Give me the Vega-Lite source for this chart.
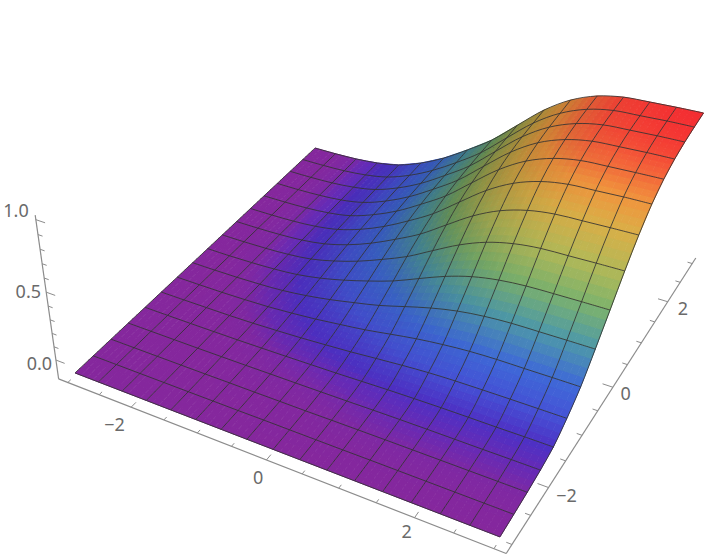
{"$schema":"https://vega.github.io/schema/vega-lite/v6.json","width":720,"height":556,"padding":0,"autosize":{"type":"none"},"background":"white","view":{"stroke":null},
"datasets":{"verts":[
{"i":0,"j":0,"z":-0.08},{"i":0,"j":1,"z":-0.08},{"i":0,"j":2,"z":-0.08},{"i":0,"j":3,"z":-0.08},{"i":0,"j":4,"z":-0.08},{"i":0,"j":5,"z":-0.08},{"i":0,"j":6,"z":-0.08},{"i":0,"j":7,"z":-0.08},{"i":0,"j":8,"z":-0.08},{"i":0,"j":9,"z":-0.08},{"i":0,"j":10,"z":-0.08},{"i":0,"j":11,"z":-0.08},{"i":0,"j":12,"z":-0.08},{"i":0,"j":13,"z":-0.08},{"i":0,"j":14,"z":-0.08},{"i":0,"j":15,"z":-0.08},{"i":0,"j":16,"z":-0.08},
{"i":1,"j":0,"z":-0.08},{"i":1,"j":1,"z":-0.08},{"i":1,"j":2,"z":-0.08},{"i":1,"j":3,"z":-0.08},{"i":1,"j":4,"z":-0.08},{"i":1,"j":5,"z":-0.08},{"i":1,"j":6,"z":-0.08},{"i":1,"j":7,"z":-0.08},{"i":1,"j":8,"z":-0.08},{"i":1,"j":9,"z":-0.079},{"i":1,"j":10,"z":-0.079},{"i":1,"j":11,"z":-0.079},{"i":1,"j":12,"z":-0.079},{"i":1,"j":13,"z":-0.079},{"i":1,"j":14,"z":-0.079},{"i":1,"j":15,"z":-0.079},{"i":1,"j":16,"z":-0.079},
{"i":2,"j":0,"z":-0.08},{"i":2,"j":1,"z":-0.08},{"i":2,"j":2,"z":-0.08},{"i":2,"j":3,"z":-0.08},{"i":2,"j":4,"z":-0.08},{"i":2,"j":5,"z":-0.079},{"i":2,"j":6,"z":-0.079},{"i":2,"j":7,"z":-0.078},{"i":2,"j":8,"z":-0.076},{"i":2,"j":9,"z":-0.075},{"i":2,"j":10,"z":-0.074},{"i":2,"j":11,"z":-0.074},{"i":2,"j":12,"z":-0.073},{"i":2,"j":13,"z":-0.073},{"i":2,"j":14,"z":-0.073},{"i":2,"j":15,"z":-0.073},{"i":2,"j":16,"z":-0.073},
{"i":3,"j":0,"z":-0.08},{"i":3,"j":1,"z":-0.08},{"i":3,"j":2,"z":-0.08},{"i":3,"j":3,"z":-0.08},{"i":3,"j":4,"z":-0.079},{"i":3,"j":5,"z":-0.078},{"i":3,"j":6,"z":-0.075},{"i":3,"j":7,"z":-0.072},{"i":3,"j":8,"z":-0.068},{"i":3,"j":9,"z":-0.065},{"i":3,"j":10,"z":-0.062},{"i":3,"j":11,"z":-0.06},{"i":3,"j":12,"z":-0.058},{"i":3,"j":13,"z":-0.058},{"i":3,"j":14,"z":-0.056},{"i":3,"j":15,"z":-0.056},{"i":3,"j":16,"z":-0.056},
{"i":4,"j":0,"z":-0.08},{"i":4,"j":1,"z":-0.08},{"i":4,"j":2,"z":-0.08},{"i":4,"j":3,"z":-0.079},{"i":4,"j":4,"z":-0.078},{"i":4,"j":5,"z":-0.074},{"i":4,"j":6,"z":-0.068},{"i":4,"j":7,"z":-0.061},{"i":4,"j":8,"z":-0.052},{"i":4,"j":9,"z":-0.044},{"i":4,"j":10,"z":-0.035},{"i":4,"j":11,"z":-0.029},{"i":4,"j":12,"z":-0.026},{"i":4,"j":13,"z":-0.024},{"i":4,"j":14,"z":-0.022},{"i":4,"j":15,"z":-0.021},{"i":4,"j":16,"z":-0.021},
{"i":5,"j":0,"z":-0.08},{"i":5,"j":1,"z":-0.08},{"i":5,"j":2,"z":-0.079},{"i":5,"j":3,"z":-0.078},{"i":5,"j":4,"z":-0.075},{"i":5,"j":5,"z":-0.067},{"i":5,"j":6,"z":-0.055},{"i":5,"j":7,"z":-0.039},{"i":5,"j":8,"z":-0.02},{"i":5,"j":9,"z":0},{"i":5,"j":10,"z":0.016},{"i":5,"j":11,"z":0.029},{"i":5,"j":12,"z":0.038},{"i":5,"j":13,"z":0.042},{"i":5,"j":14,"z":0.045},{"i":5,"j":15,"z":0.046},{"i":5,"j":16,"z":0.047},
{"i":6,"j":0,"z":-0.08},{"i":6,"j":1,"z":-0.08},{"i":6,"j":2,"z":-0.079},{"i":6,"j":3,"z":-0.076},{"i":6,"j":4,"z":-0.072},{"i":6,"j":5,"z":-0.058},{"i":6,"j":6,"z":-0.038},{"i":6,"j":7,"z":-0.008},{"i":6,"j":8,"z":0.025},{"i":6,"j":9,"z":0.058},{"i":6,"j":10,"z":0.087},{"i":6,"j":11,"z":0.109},{"i":6,"j":12,"z":0.123},{"i":6,"j":13,"z":0.132},{"i":6,"j":14,"z":0.136},{"i":6,"j":15,"z":0.139},{"i":6,"j":16,"z":0.14},
{"i":7,"j":0,"z":-0.08},{"i":7,"j":1,"z":-0.079},{"i":7,"j":2,"z":-0.078},{"i":7,"j":3,"z":-0.075},{"i":7,"j":4,"z":-0.068},{"i":7,"j":5,"z":-0.046},{"i":7,"j":6,"z":-0.015},{"i":7,"j":7,"z":0.031},{"i":7,"j":8,"z":0.08},{"i":7,"j":9,"z":0.132},{"i":7,"j":10,"z":0.176},{"i":7,"j":11,"z":0.21},{"i":7,"j":12,"z":0.233},{"i":7,"j":13,"z":0.246},{"i":7,"j":14,"z":0.253},{"i":7,"j":15,"z":0.255},{"i":7,"j":16,"z":0.258},
{"i":8,"j":0,"z":-0.08},{"i":8,"j":1,"z":-0.079},{"i":8,"j":2,"z":-0.078},{"i":8,"j":3,"z":-0.073},{"i":8,"j":4,"z":-0.064},{"i":8,"j":5,"z":-0.033},{"i":8,"j":6,"z":0.009},{"i":8,"j":7,"z":0.073},{"i":8,"j":8,"z":0.142},{"i":8,"j":9,"z":0.214},{"i":8,"j":10,"z":0.275},{"i":8,"j":11,"z":0.323},{"i":8,"j":12,"z":0.354},{"i":8,"j":13,"z":0.372},{"i":8,"j":14,"z":0.381},{"i":8,"j":15,"z":0.386},{"i":8,"j":16,"z":0.388},
{"i":9,"j":0,"z":-0.08},{"i":9,"j":1,"z":-0.079},{"i":9,"j":2,"z":-0.076},{"i":9,"j":3,"z":-0.071},{"i":9,"j":4,"z":-0.058},{"i":9,"j":5,"z":-0.016},{"i":9,"j":6,"z":0.041},{"i":9,"j":7,"z":0.128},{"i":9,"j":8,"z":0.222},{"i":9,"j":9,"z":0.319},{"i":9,"j":10,"z":0.402},{"i":9,"j":11,"z":0.467},{"i":9,"j":12,"z":0.509},{"i":9,"j":13,"z":0.533},{"i":9,"j":14,"z":0.546},{"i":9,"j":15,"z":0.552},{"i":9,"j":16,"z":0.555},
{"i":10,"j":0,"z":-0.08},{"i":10,"j":1,"z":-0.079},{"i":10,"j":2,"z":-0.075},{"i":10,"j":3,"z":-0.068},{"i":10,"j":4,"z":-0.052},{"i":10,"j":5,"z":0},{"i":10,"j":6,"z":0.072},{"i":10,"j":7,"z":0.181},{"i":10,"j":8,"z":0.3},{"i":10,"j":9,"z":0.421},{"i":10,"j":10,"z":0.527},{"i":10,"j":11,"z":0.609},{"i":10,"j":12,"z":0.661},{"i":10,"j":13,"z":0.691},{"i":10,"j":14,"z":0.708},{"i":10,"j":15,"z":0.715},{"i":10,"j":16,"z":0.72},
{"i":11,"j":0,"z":-0.08},{"i":11,"j":1,"z":-0.078},{"i":11,"j":2,"z":-0.074},{"i":11,"j":3,"z":-0.066},{"i":11,"j":4,"z":-0.048},{"i":11,"j":5,"z":0.013},{"i":11,"j":6,"z":0.095},{"i":11,"j":7,"z":0.222},{"i":11,"j":8,"z":0.359},{"i":11,"j":9,"z":0.499},{"i":11,"j":10,"z":0.621},{"i":11,"j":11,"z":0.716},{"i":11,"j":12,"z":0.776},{"i":11,"j":13,"z":0.811},{"i":11,"j":14,"z":0.829},{"i":11,"j":15,"z":0.837},{"i":11,"j":16,"z":0.843},
{"i":12,"j":0,"z":-0.08},{"i":12,"j":1,"z":-0.078},{"i":12,"j":2,"z":-0.074},{"i":12,"j":3,"z":-0.065},{"i":12,"j":4,"z":-0.045},{"i":12,"j":5,"z":0.02},{"i":12,"j":6,"z":0.111},{"i":12,"j":7,"z":0.247},{"i":12,"j":8,"z":0.395},{"i":12,"j":9,"z":0.547},{"i":12,"j":10,"z":0.679},{"i":12,"j":11,"z":0.782},{"i":12,"j":12,"z":0.847},{"i":12,"j":13,"z":0.884},{"i":12,"j":14,"z":0.904},{"i":12,"j":15,"z":0.914},{"i":12,"j":16,"z":0.92},
{"i":13,"j":0,"z":-0.08},{"i":13,"j":1,"z":-0.078},{"i":13,"j":2,"z":-0.074},{"i":13,"j":3,"z":-0.065},{"i":13,"j":4,"z":-0.044},{"i":13,"j":5,"z":0.023},{"i":13,"j":6,"z":0.118},{"i":13,"j":7,"z":0.26},{"i":13,"j":8,"z":0.413},{"i":13,"j":9,"z":0.571},{"i":13,"j":10,"z":0.708},{"i":13,"j":11,"z":0.815},{"i":13,"j":12,"z":0.883},{"i":13,"j":13,"z":0.922},{"i":13,"j":14,"z":0.943},{"i":13,"j":15,"z":0.953},{"i":13,"j":16,"z":0.958},
{"i":14,"j":0,"z":-0.08},{"i":14,"j":1,"z":-0.078},{"i":14,"j":2,"z":-0.074},{"i":14,"j":3,"z":-0.065},{"i":14,"j":4,"z":-0.044},{"i":14,"j":5,"z":0.025},{"i":14,"j":6,"z":0.119},{"i":14,"j":7,"z":0.263},{"i":14,"j":8,"z":0.419},{"i":14,"j":9,"z":0.577},{"i":14,"j":10,"z":0.716},{"i":14,"j":11,"z":0.824},{"i":14,"j":12,"z":0.893},{"i":14,"j":13,"z":0.933},{"i":14,"j":14,"z":0.954},{"i":14,"j":15,"z":0.963},{"i":14,"j":16,"z":0.969},
{"i":15,"j":0,"z":-0.08},{"i":15,"j":1,"z":-0.078},{"i":15,"j":2,"z":-0.074},{"i":15,"j":3,"z":-0.064},{"i":15,"j":4,"z":-0.042},{"i":15,"j":5,"z":0.026},{"i":15,"j":6,"z":0.121},{"i":15,"j":7,"z":0.266},{"i":15,"j":8,"z":0.423},{"i":15,"j":9,"z":0.583},{"i":15,"j":10,"z":0.723},{"i":15,"j":11,"z":0.833},{"i":15,"j":12,"z":0.901},{"i":15,"j":13,"z":0.942},{"i":15,"j":14,"z":0.963},{"i":15,"j":15,"z":0.973},{"i":15,"j":16,"z":0.978},
{"i":16,"j":0,"z":-0.08},{"i":16,"j":1,"z":-0.078},{"i":16,"j":2,"z":-0.074},{"i":16,"j":3,"z":-0.064},{"i":16,"j":4,"z":-0.042},{"i":16,"j":5,"z":0.027},{"i":16,"j":6,"z":0.122},{"i":16,"j":7,"z":0.268},{"i":16,"j":8,"z":0.426},{"i":16,"j":9,"z":0.587},{"i":16,"j":10,"z":0.728},{"i":16,"j":11,"z":0.837},{"i":16,"j":12,"z":0.907},{"i":16,"j":13,"z":0.947},{"i":16,"j":14,"z":0.968},{"i":16,"j":15,"z":0.978},{"i":16,"j":16,"z":0.984}
],
"axes":[{"a":"u","t":-3.15},{"a":"u","t":3.15},{"a":"v","t":-3.15},{"a":"v","t":3.15},{"a":"z","t":-0.145},{"a":"z","t":1.03}],
"ticks":[{"a":"u","t":-3,"m":0},{"a":"u","t":-2.5,"m":0},{"a":"u","t":-2,"m":1},{"a":"u","t":-1.5,"m":0},{"a":"u","t":-1,"m":0},{"a":"u","t":-0.5,"m":0},{"a":"u","t":0,"m":1},{"a":"u","t":0.5,"m":0},{"a":"u","t":1,"m":0},{"a":"u","t":1.5,"m":0},{"a":"u","t":2,"m":1},{"a":"u","t":2.5,"m":0},{"a":"u","t":3,"m":0},
{"a":"v","t":-3,"m":0},{"a":"v","t":-2.5,"m":0},{"a":"v","t":-2,"m":1},{"a":"v","t":-1.5,"m":0},{"a":"v","t":-1,"m":0},{"a":"v","t":-0.5,"m":0},{"a":"v","t":0,"m":1},{"a":"v","t":0.5,"m":0},{"a":"v","t":1,"m":0},{"a":"v","t":1.5,"m":0},{"a":"v","t":2,"m":1},{"a":"v","t":2.5,"m":0},{"a":"v","t":3,"m":0},
{"a":"z","t":0,"m":1},{"a":"z","t":0.1,"m":0},{"a":"z","t":0.2,"m":0},{"a":"z","t":0.3,"m":0},{"a":"z","t":0.4,"m":0},{"a":"z","t":0.5,"m":1},{"a":"z","t":0.6,"m":0},{"a":"z","t":0.7,"m":0},{"a":"z","t":0.8,"m":0},{"a":"z","t":0.9,"m":0},{"a":"z","t":1,"m":1}],
"labels":[{"label":"−2","u":-1.95,"v":-3.55,"w":0},{"label":"0","u":0.14,"v":-3.55,"w":0.03},{"label":"2","u":2.1,"v":-3.55,"w":0.07},
{"label":"−2","u":3.4,"v":-2,"w":-0.05},{"label":"0","u":3.38,"v":0,"w":-0.07},{"label":"2","u":3.46,"v":2,"w":-0.08},
{"label":"0.0","u":-3.45,"v":-3.15,"w":0.03},{"label":"0.5","u":-3.49,"v":-3.15,"w":0.57},{"label":"1.0","u":-3.53,"v":-3.15,"w":1.13}]},
"data":{"name":"verts"},
"transform":[{"calculate":"-3+0.375*datum.i","as":"u"},{"calculate":"-3+0.375*datum.j","as":"v"},{"calculate":"datum.z+0.08","as":"w"},
{"calculate":"1-0.02*datum.u+0.0373*datum.v-0.0615*datum.w","as":"den"},
{"calculate":"(391.6+57.15*datum.u+49.68*datum.v-17*datum.w)/datum.den","as":"px"},
{"calculate":"(309.04+15.17*datum.u-30.02*datum.v-143.8*datum.w)/datum.den","as":"py"},
{"window":[{"op":"lag","field":"z","as":"zl"},{"op":"lead","field":"z","as":"zr"}],"groupby":["j"],"sort":[{"field":"i"}]},
{"calculate":"((datum.zr===null?datum.z:datum.zr)-(datum.zl===null?datum.z:datum.zl))/(datum.zr===null||datum.zl===null?1:2)","as":"sl"}],
"encoding":{"x":{"field":"px","type":"quantitative","axis":null,"scale":{"domain":[0,720],"nice":false,"zero":false}},"y":{"field":"py","type":"quantitative","axis":null,"scale":{"domain":[556,0],"nice":false,"zero":false}}},
"layer":[
{"transform":[{"calculate":"[0,1,2,3]","as":"k"},{"flatten":["k"]},{"calculate":"datum.i-(datum.k==1||datum.k==2?1:0)","as":"ci"},{"calculate":"datum.j-(datum.k>=2?1:0)","as":"cj"},{"filter":"datum.ci>=0&&datum.ci<16&&datum.cj>=0&&datum.cj<16"},{"calculate":"datum.ci*100+datum.cj","as":"cell"},
{"aggregate":[{"op":"values","as":"vs"}],"groupby":["cell"]},
{"calculate":"[0,1,2,3,4,5,6,7,8,9,10,11,12,13,14,15]","as":"sub"},{"flatten":["sub"]},{"calculate":"[0,1,2,3]","as":"m"},{"flatten":["m"]},
{"calculate":"floor(datum.sub/4)","as":"sx"},{"calculate":"datum.sub%4","as":"sy"},
{"calculate":"(datum.sx+(datum.m==1||datum.m==2?1:0))/4","as":"s"},{"calculate":"(datum.sy+(datum.m>=2?1:0))/4","as":"t"},
{"calculate":"(datum.sx+0.5)/4","as":"sc"},{"calculate":"(datum.sy+0.5)/4","as":"tc"},
{"calculate":"(1-datum.s)*(1-datum.t)*datum.vs[0].px+(1-datum.s)*datum.t*datum.vs[1].px+datum.s*(1-datum.t)*datum.vs[2].px+datum.s*datum.t*datum.vs[3].px","as":"qx"},
{"calculate":"(1-datum.s)*(1-datum.t)*datum.vs[0].py+(1-datum.s)*datum.t*datum.vs[1].py+datum.s*(1-datum.t)*datum.vs[2].py+datum.s*datum.t*datum.vs[3].py","as":"qy"},
{"calculate":"(1-datum.sc)*(1-datum.tc)*datum.vs[0].z+(1-datum.sc)*datum.tc*datum.vs[1].z+datum.sc*(1-datum.tc)*datum.vs[2].z+datum.sc*datum.tc*datum.vs[3].z","as":"qz"},
{"calculate":"datum.cell*100+datum.sub","as":"q"}],
"mark":{"type":"line","strokeWidth":1},
"encoding":{"x":{"field":"qx","type":"quantitative"},"y":{"field":"qy","type":"quantitative"},"detail":{"field":"q"},"order":{"field":"m","type":"quantitative"},
"fill":{"field":"qz","type":"quantitative","legend":null,"scale":{"interpolate":"rgb","domain":[-0.08,-0.075,-0.066,-0.045,0.026,0.12,0.273,0.426,0.579,0.731,0.837,0.92,0.984],"range":["#85279D","#7F28A2","#682AB4","#4E30C4","#4552D6","#3F6AD8","#4F9AA8","#7DB36D","#B4BA58","#DCB048","#F2963E","#F6603A","#F62C32"]}},
"stroke":{"field":"qz","type":"quantitative","legend":null,"scale":{"interpolate":"rgb","domain":[-0.08,-0.075,-0.066,-0.045,0.026,0.12,0.273,0.426,0.579,0.731,0.837,0.92,0.984],"range":["#85279D","#7F28A2","#682AB4","#4E30C4","#4552D6","#3F6AD8","#4F9AA8","#7DB36D","#B4BA58","#DCB048","#F2963E","#F6603A","#F62C32"]}}}},
{"transform":[{"filter":"datum.i>=3"},{"calculate":"[0,1,2,3]","as":"k"},{"flatten":["k"]},{"calculate":"datum.i-(datum.k==1||datum.k==2?1:0)","as":"ci"},{"calculate":"datum.j-(datum.k>=2?1:0)","as":"cj"},{"filter":"datum.ci>=3&&datum.ci<16&&datum.cj>=4&&datum.cj<16"},{"calculate":"datum.ci*100+datum.cj","as":"cell"},
{"aggregate":[{"op":"values","as":"vs"}],"groupby":["cell"]},
{"calculate":"[0,1,2,3,4,5,6,7,8]","as":"sub"},{"flatten":["sub"]},{"calculate":"[0,1,2,3]","as":"m"},{"flatten":["m"]},
{"calculate":"floor(datum.sub/3)","as":"sx"},{"calculate":"datum.sub%3","as":"sy"},
{"calculate":"(datum.sx+(datum.m==1||datum.m==2?1:0))/3","as":"s"},{"calculate":"(datum.sy+(datum.m>=2?1:0))/3","as":"t"},
{"calculate":"(datum.sx+0.5)/3","as":"sc"},{"calculate":"(datum.sy+0.5)/3","as":"tc"},
{"calculate":"(1-datum.s)*(1-datum.t)*datum.vs[0].px+(1-datum.s)*datum.t*datum.vs[1].px+datum.s*(1-datum.t)*datum.vs[2].px+datum.s*datum.t*datum.vs[3].px","as":"qx"},
{"calculate":"(1-datum.s)*(1-datum.t)*datum.vs[0].py+(1-datum.s)*datum.t*datum.vs[1].py+datum.s*(1-datum.t)*datum.vs[2].py+datum.s*datum.t*datum.vs[3].py","as":"qy"},
{"calculate":"(1-datum.sc)*(1-datum.tc)*datum.vs[0].sl+(1-datum.sc)*datum.tc*datum.vs[1].sl+datum.sc*(1-datum.tc)*datum.vs[2].sl+datum.sc*datum.tc*datum.vs[3].sl","as":"qs"},
{"calculate":"datum.cell*100+datum.sub","as":"q"}],
"mark":{"type":"line","strokeWidth":0,"fill":"black"},
"encoding":{"x":{"field":"qx","type":"quantitative"},"y":{"field":"qy","type":"quantitative"},"detail":{"field":"q"},"order":{"field":"m","type":"quantitative"},
"fillOpacity":{"field":"qs","type":"quantitative","legend":null,"scale":{"domain":[0,0.17],"range":[0,0.27],"clamp":true}}}},
{"mark":{"type":"line","stroke":"#333333","strokeWidth":1,"opacity":0.85,"interpolate":"catmull-rom"},"encoding":{"detail":{"field":"i"},"order":{"field":"j","type":"quantitative"}}},
{"mark":{"type":"line","stroke":"#333333","strokeWidth":1,"opacity":0.85,"interpolate":"catmull-rom"},"encoding":{"detail":{"field":"j"},"order":{"field":"i","type":"quantitative"}}},
{"data":{"name":"axes"},"transform":[{"calculate":"datum.a=='z'?datum.t+0.125:datum.a=='v'?-0.02-0.0065*(datum.t+3.15):-0.02","as":"w"},{"calculate":"datum.a=='u'?datum.t:datum.a=='v'?3.15+0.016*(datum.t+3.15):-3.15-0.07*datum.w","as":"u"},{"calculate":"datum.a=='v'?datum.t:-3.15","as":"v"},
{"calculate":"1-0.02*datum.u+0.0373*datum.v-0.0615*datum.w","as":"den"},{"calculate":"(391.6+57.15*datum.u+49.68*datum.v-17*datum.w)/datum.den","as":"px"},{"calculate":"(309.04+15.17*datum.u-30.02*datum.v-143.8*datum.w)/datum.den","as":"py"}],
"mark":{"type":"line","stroke":"#8c8c8c","strokeWidth":1.2},"encoding":{"detail":{"field":"a"},"order":{"field":"t","type":"quantitative"}}},
{"data":{"name":"ticks"},"transform":[{"calculate":"datum.a=='z'?datum.t+0.125:datum.a=='v'?-0.02-0.0065*(datum.t+3.15):-0.02","as":"w"},{"calculate":"datum.a=='u'?datum.t:datum.a=='v'?3.15+0.016*(datum.t+3.15):-3.15-0.07*datum.w","as":"u"},{"calculate":"datum.a=='v'?datum.t:-3.15","as":"v"},
{"calculate":"datum.a=='u'?(datum.m?0.1:0.06):(datum.m?0.14:0.07)","as":"L"},
{"calculate":"datum.u+(datum.a=='z'?datum.L:datum.a=='v'?-datum.L:0)","as":"u2"},{"calculate":"datum.v+(datum.a=='u'?datum.L:0)","as":"v2"},
{"calculate":"1-0.02*datum.u+0.0373*datum.v-0.0615*datum.w","as":"den"},{"calculate":"(391.6+57.15*datum.u+49.68*datum.v-17*datum.w)/datum.den","as":"px"},{"calculate":"(309.04+15.17*datum.u-30.02*datum.v-143.8*datum.w)/datum.den","as":"py"},
{"calculate":"1-0.02*datum.u2+0.0373*datum.v2-0.0615*datum.w","as":"den2"},{"calculate":"(391.6+57.15*datum.u2+49.68*datum.v2-17*datum.w)/datum.den2","as":"px2"},{"calculate":"(309.04+15.17*datum.u2-30.02*datum.v2-143.8*datum.w)/datum.den2","as":"py2"}],
"mark":{"type":"rule","stroke":"#8c8c8c","strokeWidth":1},"encoding":{"x2":{"field":"px2"},"y2":{"field":"py2"}}},
{"data":{"name":"labels"},"transform":[{"calculate":"1-0.02*datum.u+0.0373*datum.v-0.0615*datum.w","as":"den"},{"calculate":"(391.6+57.15*datum.u+49.68*datum.v-17*datum.w)/datum.den","as":"px"},{"calculate":"(309.04+15.17*datum.u-30.02*datum.v-143.8*datum.w)/datum.den","as":"py"}],
"mark":{"type":"text","font":"Noto Sans","fontSize":18,"fill":"#6a6a6a","align":"center","baseline":"middle"},"encoding":{"text":{"field":"label"}}}
],"config":{"style":{"cell":{"stroke":null}}}}
